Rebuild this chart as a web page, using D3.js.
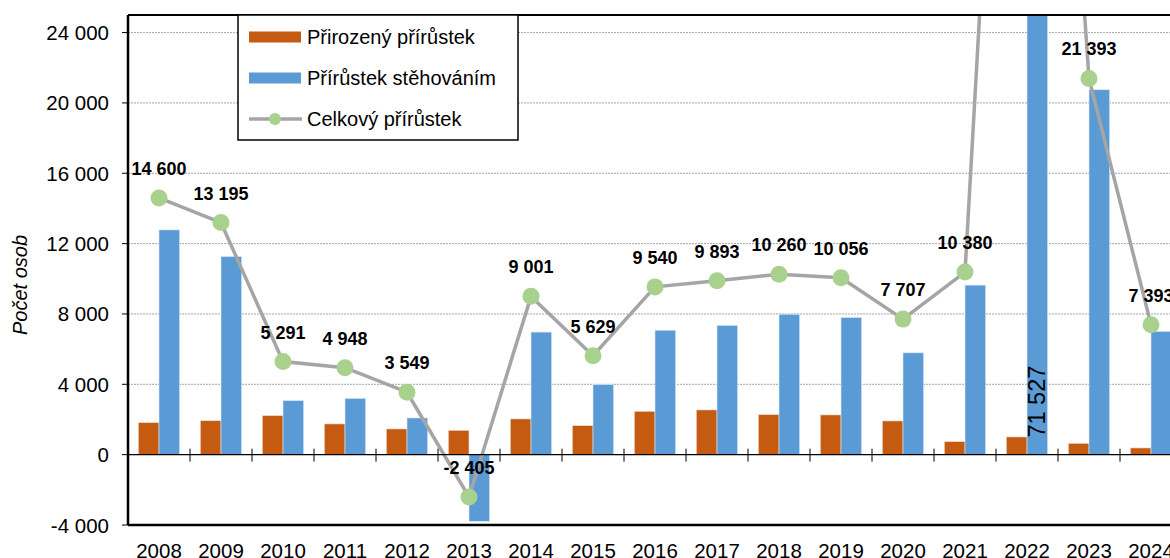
<!DOCTYPE html>
<html>
<head>
<meta charset="utf-8">
<script src="https://cdn.jsdelivr.net/npm/d3@7"></script>
<style>
  body { margin: 0; background: #fff; }
  svg { display: block; font-family: "Liberation Sans", Arial, sans-serif; }
</style>
</head>
<body>
<div id="chart"></div>
<script>
const years = ["2008","2009","2010","2011","2012","2013","2014","2015","2016","2017","2018","2019","2020","2021","2022","2023","2024"];
const natural = [1820, 1929, 2219, 1747, 1462, 1383, 2031, 1650, 2464, 2543, 2276, 2259, 1917, 740, 1007, 643, 381];
const migration = [12780, 11266, 3072, 3201, 2087, -3788, 6970, 3979, 7076, 7350, 7984, 7797, 5790, 9640, 71527, 20750, 7012];
const total = [14600, 13195, 5291, 4948, 3549, -2405, 9001, 5629, 9540, 9893, 10260, 10056, 7707, 10380, 72534, 21393, 7393];
const yTicks = [-4000, 0, 4000, 8000, 12000, 16000, 20000, 24000];

const W = 1170, H = 558;
const m = { left: 128, top: 15, right: 1182, bottom: 525 };

const svg = d3.select("#chart").append("svg")
  .attr("width", W)
  .attr("height", H);

const x = d3.scaleBand().domain(years).range([m.left, m.right]);
const y = d3.scaleLinear().domain([-4000, 25000]).range([m.bottom, m.top]);

// thousands separated by space, plain hyphen for negatives
const fmt = v => d3.format(",")(v).replace(/,/g, " ").replace("\u2212", "-");

// gridlines
svg.append("g")
  .selectAll("line")
  .data(yTicks.filter(d => d !== 0 && d !== -4000))
  .enter().append("line")
  .attr("x1", m.left).attr("x2", m.right)
  .attr("y1", d => y(d)).attr("y2", d => y(d))
  .attr("stroke", "#a6a6a6")
  .attr("stroke-width", 1)
  .attr("stroke-dasharray", "2,1");

svg.append("defs").append("clipPath").attr("id", "plot")
  .append("rect")
  .attr("x", m.left).attr("y", m.top)
  .attr("width", m.right - m.left).attr("height", m.bottom - m.top);

const plot = svg.append("g").attr("clip-path", "url(#plot)");

const barW = x.bandwidth() / 3;

plot.selectAll(".nat")
  .data(years)
  .enter().append("rect")
  .attr("class", "nat")
  .attr("x", d => x(d) + x.bandwidth() / 2 - barW)
  .attr("width", barW)
  .attr("y", (d, i) => y(Math.max(0, natural[i])))
  .attr("height", (d, i) => Math.abs(y(natural[i]) - y(0)))
  .attr("fill", "#c55a11")
  .attr("stroke", "#f2dcd0")
  .attr("stroke-width", 0.6);

plot.selectAll(".mig")
  .data(years)
  .enter().append("rect")
  .attr("class", "mig")
  .attr("x", d => x(d) + x.bandwidth() / 2)
  .attr("width", barW)
  .attr("y", (d, i) => y(Math.max(0, migration[i])))
  .attr("height", (d, i) => Math.abs(y(migration[i]) - y(0)))
  .attr("fill", "#5b9bd5")
  .attr("stroke", "#dce9f5")
  .attr("stroke-width", 0.6);

// zero line
svg.append("line")
  .attr("x1", m.left).attr("x2", m.right)
  .attr("y1", y(0)).attr("y2", y(0))
  .attr("stroke", "#000").attr("stroke-width", 1.2);

// category tick marks on zero line
svg.append("g")
  .selectAll("line")
  .data(years.slice(1))
  .enter().append("line")
  .attr("x1", d => x(d)).attr("x2", d => x(d))
  .attr("y1", y(0) - 6).attr("y2", y(0) + 7)
  .attr("stroke", "#000").attr("stroke-width", 1);

// total line
const line = d3.line()
  .x((d, i) => x(years[i]) + x.bandwidth() / 2)
  .y(d => y(d));

plot.append("path")
  .datum(total)
  .attr("d", line)
  .attr("fill", "none")
  .attr("stroke", "#a5a5a5")
  .attr("stroke-width", 3.5);

plot.selectAll(".pt")
  .data(total)
  .enter().append("circle")
  .attr("class", "pt")
  .attr("cx", (d, i) => x(years[i]) + x.bandwidth() / 2)
  .attr("cy", d => y(d))
  .attr("r", 8.5)
  .attr("fill", "#a9d18e");

plot.selectAll(".lbl")
  .data(total)
  .enter().append("text")
  .attr("class", "lbl")
  .attr("x", (d, i) => x(years[i]) + x.bandwidth() / 2)
  .attr("y", d => y(d) - 23)
  .attr("text-anchor", "middle")
  .attr("font-size", 18)
  .attr("font-weight", "bold")
  .attr("fill", "#000")
  .text(d => fmt(d));

// 2022 migration label inside bar
const i22 = years.indexOf("2022");
plot.append("text")
  .attr("transform", `translate(${x("2022") + x.bandwidth() / 2 + barW / 2 + 8},${y(0) - 53}) rotate(-90)`)
  .attr("text-anchor", "middle")
  .attr("font-size", 23.5)
  .attr("fill", "#000")
  .text(fmt(migration[i22]));

// axes frame
svg.append("line")
  .attr("x1", m.left).attr("x2", m.left)
  .attr("y1", m.top).attr("y2", m.bottom)
  .attr("stroke", "#000").attr("stroke-width", 2.5);
svg.append("line")
  .attr("x1", m.left).attr("x2", m.right)
  .attr("y1", m.bottom).attr("y2", m.bottom)
  .attr("stroke", "#000").attr("stroke-width", 2.5);
svg.append("line")
  .attr("x1", m.left).attr("x2", m.right)
  .attr("y1", m.top).attr("y2", m.top)
  .attr("stroke", "#000").attr("stroke-width", 2);

// y axis ticks and labels
const yAxis = svg.append("g");
yAxis.selectAll("line")
  .data(yTicks)
  .enter().append("line")
  .attr("x1", m.left - 6).attr("x2", m.left)
  .attr("y1", d => y(d)).attr("y2", d => y(d))
  .attr("stroke", "#000").attr("stroke-width", 1);
yAxis.selectAll("text")
  .data(yTicks)
  .enter().append("text")
  .attr("x", m.left - 19)
  .attr("y", d => y(d) + 7.5)
  .attr("text-anchor", "end")
  .attr("font-size", 20.5)
  .attr("fill", "#000")
  .text(d => fmt(d));

svg.append("text")
  .attr("transform", "translate(27,285) rotate(-90)")
  .attr("text-anchor", "middle")
  .attr("font-size", 20)
  .attr("font-style", "italic")
  .attr("fill", "#000")
  .text("Počet osob");

// x labels
svg.append("g")
  .selectAll("text")
  .data(years)
  .enter().append("text")
  .attr("x", d => x(d) + x.bandwidth() / 2)
  .attr("y", 558)
  .attr("text-anchor", "middle")
  .attr("font-size", 20.5)
  .attr("fill", "#000")
  .text(d => d);

// legend
const lg = svg.append("g");
lg.append("rect")
  .attr("x", 238).attr("y", 15)
  .attr("width", 280).attr("height", 125)
  .attr("fill", "#fff")
  .attr("stroke", "#000").attr("stroke-width", 1.5);

const legendItems = [
  { label: "Přirozený přírůstek", type: "bar", color: "#c55a11", cy: 37 },
  { label: "Přírůstek stěhováním", type: "bar", color: "#5b9bd5", cy: 78 },
  { label: "Celkový přírůstek", type: "line", color: "#a5a5a5", cy: 119 }
];

legendItems.forEach(it => {
  if (it.type === "bar") {
    lg.append("rect")
      .attr("x", 249).attr("y", it.cy - 5.5)
      .attr("width", 52).attr("height", 11)
      .attr("fill", it.color);
  } else {
    lg.append("line")
      .attr("x1", 249).attr("x2", 302)
      .attr("y1", it.cy).attr("y2", it.cy)
      .attr("stroke", it.color).attr("stroke-width", 3.5);
    lg.append("circle")
      .attr("cx", 275).attr("cy", it.cy).attr("r", 6)
      .attr("fill", "#a9d18e");
  }
  lg.append("text")
    .attr("x", 307).attr("y", it.cy + 7)
    .attr("font-size", 20)
    .attr("fill", "#000")
    .text(it.label);
});
</script>
</body>
</html>
